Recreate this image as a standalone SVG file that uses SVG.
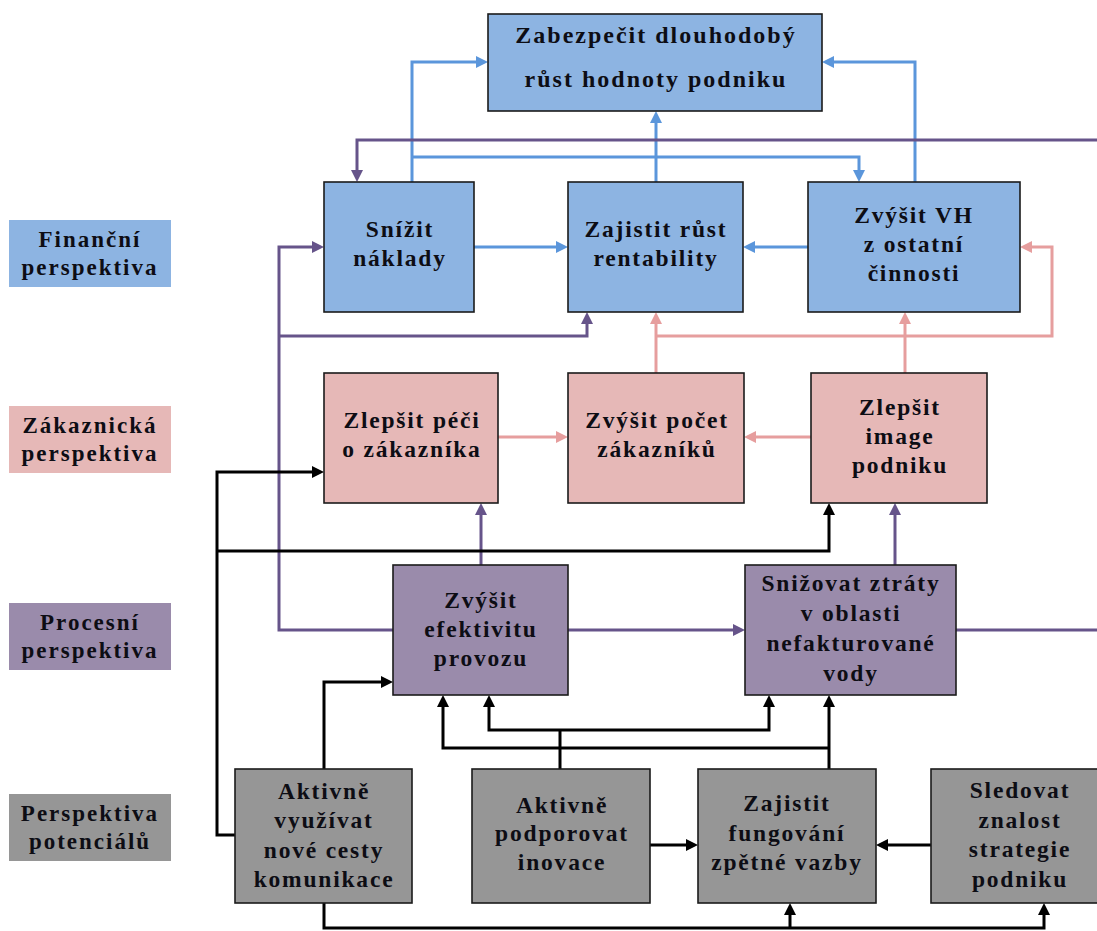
<svg xmlns="http://www.w3.org/2000/svg" width="1097" height="931" viewBox="0 0 1097 931">
  <style>
    .box { stroke: #1b1b1b; stroke-width: 1.6; }
    .lab { stroke: none; }
    .fin { fill: #8DB4E2; }
    .cus { fill: #E6B8B7; }
    .pro { fill: #9A8BAB; }
    .pot { fill: #969696; }
    text { font-family: "Liberation Serif", "Times New Roman", serif; font-weight: bold; fill: #0d0d14; text-anchor: middle; }
    .t { font-size: 23.5px; letter-spacing: 1.8px; }
    .tt { font-size: 24px; letter-spacing: 2px; }
    .tl { font-size: 23px; letter-spacing: 2px; }
    .c { fill: none; stroke-width: 3; stroke-linejoin: miter; }
    .blue { stroke: #5B96DB; }
    .purple { stroke: #66548A; }
    .pink { stroke: #E69E9E; }
    .black { stroke: #000; }
  </style>
  <defs>
    <marker id="ab" markerUnits="userSpaceOnUse" markerWidth="12" markerHeight="12" refX="1" refY="6" orient="auto"><path d="M0,0 L12,6 L0,12 z" fill="#5B96DB"/></marker>
    <marker id="ap" markerUnits="userSpaceOnUse" markerWidth="12" markerHeight="12" refX="1" refY="6" orient="auto"><path d="M0,0 L12,6 L0,12 z" fill="#66548A"/></marker>
    <marker id="ar" markerUnits="userSpaceOnUse" markerWidth="12" markerHeight="12" refX="1" refY="6" orient="auto"><path d="M0,0 L12,6 L0,12 z" fill="#E69E9E"/></marker>
    <marker id="ak" markerUnits="userSpaceOnUse" markerWidth="12" markerHeight="12" refX="1" refY="6" orient="auto"><path d="M0,0 L12,6 L0,12 z" fill="#000"/></marker>
  </defs>
  <rect width="1097" height="931" fill="#fff"/>

  <!-- perspective labels -->
  <g id="label-financni">
    <rect class="lab fin" x="9" y="220" width="162" height="67"/>
    <text class="tl"><tspan x="90" y="247">Finanční</tspan><tspan x="90" y="275">perspektiva</tspan></text>
  </g>
  <g id="label-zakaznicka">
    <rect class="lab cus" x="9" y="406" width="162" height="67"/>
    <text class="tl"><tspan x="90" y="433">Zákaznická</tspan><tspan x="90" y="461">perspektiva</tspan></text>
  </g>
  <g id="label-procesni">
    <rect class="lab pro" x="9" y="603" width="162" height="67"/>
    <text class="tl"><tspan x="90" y="630">Procesní</tspan><tspan x="90" y="658">perspektiva</tspan></text>
  </g>
  <g id="label-potencialu">
    <rect class="lab pot" x="9" y="794" width="162" height="67"/>
    <text class="tl"><tspan x="90" y="821">Perspektiva</tspan><tspan x="90" y="849">potenciálů</tspan></text>
  </g>

  <!-- connectors -->
  <g id="connectors">
    <!-- financial -->
    <path class="c blue" d="M412,182 V62 H477" marker-end="url(#ab)"/>
    <path class="c blue" d="M412,157 H859 V171" marker-end="url(#ab)"/>
    <path class="c blue" d="M656,182 V122" marker-end="url(#ab)"/>
    <path class="c blue" d="M915,182 V62 H833" marker-end="url(#ab)"/>
    <path class="c blue" d="M474,247 H557" marker-end="url(#ab)"/>
    <path class="c blue" d="M808,247 H754" marker-end="url(#ab)"/>
    <!-- process -->
    <path class="c purple" d="M1097,140 H357 V171" marker-end="url(#ap)"/>
    <path class="c purple" d="M393,630 H279 V247 H313" marker-end="url(#ap)"/>
    <path class="c purple" d="M279,336 H587 V323" marker-end="url(#ap)"/>
    <path class="c purple" d="M481,565 V514" marker-end="url(#ap)"/>
    <path class="c purple" d="M568,630 H734" marker-end="url(#ap)"/>
    <path class="c purple" d="M895,565 V514" marker-end="url(#ap)"/>
    <path class="c purple" d="M956,630 H1097"/>
    <!-- customer -->
    <path class="c pink" d="M498,437 H557" marker-end="url(#ar)"/>
    <path class="c pink" d="M811,437 H755" marker-end="url(#ar)"/>
    <path class="c pink" d="M656,373 V323" marker-end="url(#ar)"/>
    <path class="c pink" d="M905,373 V323" marker-end="url(#ar)"/>
    <path class="c pink" d="M656,336 H1052 V247 H1031" marker-end="url(#ar)"/>
    <!-- potential -->
    <path class="c black" d="M235,835 H217 V472 H313" marker-end="url(#ak)"/>
    <path class="c black" d="M217,551 H829 V514" marker-end="url(#ak)"/>
    <path class="c black" d="M324,769 V682 H382" marker-end="url(#ak)"/>
    <path class="c black" d="M560,769 V730"/>
    <path class="c black" d="M560,730 H489 V706" marker-end="url(#ak)"/>
    <path class="c black" d="M560,730 H769 V706" marker-end="url(#ak)"/>
    <path class="c black" d="M829,769 V706" marker-end="url(#ak)"/>
    <path class="c black" d="M829,748 H443 V706" marker-end="url(#ak)"/>
    <path class="c black" d="M650,845 H687" marker-end="url(#ak)"/>
    <path class="c black" d="M931,845 H887" marker-end="url(#ak)"/>
    <path class="c black" d="M324,903 V928 H1044 V914" marker-end="url(#ak)"/>
    <path class="c black" d="M790,928 V914" marker-end="url(#ak)"/>
  </g>

  <!-- financial perspective -->
  <g id="node-rust-hodnoty">
    <rect class="box fin" x="488" y="14" width="334" height="97"/>
    <text class="tt"><tspan x="656" y="43">Zabezpečit dlouhodobý</tspan><tspan x="656" y="87">růst hodnoty podniku</tspan></text>
  </g>
  <g id="node-snizit-naklady">
    <rect class="box fin" x="324" y="182" width="150" height="130"/>
    <text class="t"><tspan x="400" y="237">Snížit</tspan><tspan x="400" y="266">náklady</tspan></text>
  </g>
  <g id="node-rentabilita">
    <rect class="box fin" x="568" y="182" width="175" height="130"/>
    <text class="t"><tspan x="656" y="237">Zajistit růst</tspan><tspan x="656" y="266">rentability</tspan></text>
  </g>
  <g id="node-vh">
    <rect class="box fin" x="808" y="182" width="212" height="130"/>
    <text class="t"><tspan x="914" y="223">Zvýšit VH</tspan><tspan x="914" y="252">z ostatní</tspan><tspan x="914" y="281">činnosti</tspan></text>
  </g>

  <!-- customer perspective -->
  <g id="node-pece">
    <rect class="box cus" x="324" y="373" width="174" height="130"/>
    <text class="t"><tspan x="412" y="428">Zlepšit péči</tspan><tspan x="412" y="457">o zákazníka</tspan></text>
  </g>
  <g id="node-pocet">
    <rect class="box cus" x="568" y="373" width="176" height="130"/>
    <text class="t"><tspan x="657" y="428">Zvýšit počet</tspan><tspan x="657" y="457">zákazníků</tspan></text>
  </g>
  <g id="node-image">
    <rect class="box cus" x="811" y="373" width="176" height="130"/>
    <text class="t"><tspan x="900" y="415">Zlepšit</tspan><tspan x="900" y="444">image</tspan><tspan x="900" y="473">podniku</tspan></text>
  </g>

  <!-- process perspective -->
  <g id="node-efektivita">
    <rect class="box pro" x="393" y="565" width="175" height="130"/>
    <text class="t"><tspan x="481" y="608">Zvýšit</tspan><tspan x="481" y="637">efektivitu</tspan><tspan x="481" y="666">provozu</tspan></text>
  </g>
  <g id="node-ztraty">
    <rect class="box pro" x="745" y="565" width="211" height="130"/>
    <text class="t"><tspan x="851" y="591">Snižovat ztráty</tspan><tspan x="851" y="621">v oblasti</tspan><tspan x="851" y="651">nefakturované</tspan><tspan x="851" y="681">vody</tspan></text>
  </g>

  <!-- potential perspective -->
  <g id="node-komunikace">
    <rect class="box pot" x="235" y="769" width="177" height="134"/>
    <text class="t"><tspan x="324" y="799">Aktivně</tspan><tspan x="324" y="828">využívat</tspan><tspan x="324" y="858">nové cesty</tspan><tspan x="324" y="887">komunikace</tspan></text>
  </g>
  <g id="node-inovace">
    <rect class="box pot" x="472" y="769" width="178" height="134"/>
    <text class="t"><tspan x="562" y="813">Aktivně</tspan><tspan x="562" y="841">podporovat</tspan><tspan x="562" y="870">inovace</tspan></text>
  </g>
  <g id="node-zpetna-vazba">
    <rect class="box pot" x="698" y="769" width="178" height="134"/>
    <text class="t"><tspan x="787" y="811">Zajistit</tspan><tspan x="787" y="841">fungování</tspan><tspan x="787" y="870">zpětné vazby</tspan></text>
  </g>
  <g id="node-strategie">
    <rect class="box pot" x="931" y="769" width="180" height="134"/>
    <text class="t"><tspan x="1020" y="798">Sledovat</tspan><tspan x="1020" y="828">znalost</tspan><tspan x="1020" y="857">strategie</tspan><tspan x="1020" y="887">podniku</tspan></text>
  </g>
</svg>
